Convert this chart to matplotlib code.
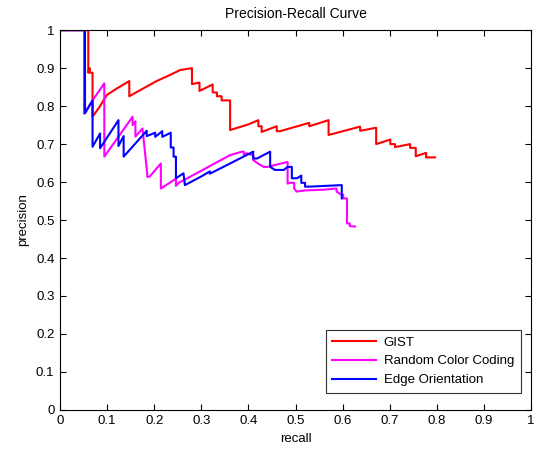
import numpy as np
import matplotlib
matplotlib.use("Agg")
import matplotlib.pyplot as plt

# Curvas precision-recall (vertices de cada escalon)
gist_recall = [0, 0.060, 0.060, 0.063, 0.063, 0.069, 0.069, 0.085, 0.099, 0.120, 0.147, 0.147,
               0.170, 0.205, 0.230, 0.255, 0.280, 0.280, 0.296, 0.296, 0.324, 0.324, 0.333,
               0.333, 0.343, 0.343, 0.355, 0.361, 0.361, 0.400, 0.421, 0.421, 0.428, 0.428,
               0.460, 0.460, 0.467, 0.529, 0.529, 0.570, 0.570, 0.637, 0.637, 0.671, 0.671,
               0.701, 0.701, 0.711, 0.711, 0.743, 0.743, 0.755, 0.755, 0.777, 0.777, 0.796]
gist_prec = [1, 1, 0.888, 0.900, 0.888, 0.888, 0.772, 0.800, 0.829, 0.846, 0.866, 0.826,
             0.842, 0.866, 0.880, 0.895, 0.900, 0.858, 0.862, 0.840, 0.857, 0.836, 0.836,
             0.826, 0.826, 0.815, 0.815, 0.815, 0.737, 0.752, 0.763, 0.747, 0.747, 0.732,
             0.747, 0.734, 0.734, 0.756, 0.747, 0.763, 0.724, 0.746, 0.735, 0.743, 0.700,
             0.712, 0.700, 0.700, 0.692, 0.700, 0.690, 0.690, 0.668, 0.677, 0.665, 0.665]

rcc_recall = [0, 0.051, 0.051, 0.069, 0.094, 0.094, 0.154, 0.154, 0.160, 0.160, 0.175, 0.175,
              0.185, 0.185, 0.190, 0.214, 0.214, 0.246, 0.246, 0.252, 0.300, 0.361, 0.386,
              0.390, 0.390, 0.396, 0.410, 0.410, 0.420, 0.432, 0.440, 0.483, 0.483, 0.488,
              0.497, 0.497, 0.502, 0.520, 0.560, 0.587, 0.587, 0.597, 0.601, 0.601, 0.609,
              0.609, 0.615, 0.615, 0.626]
rcc_prec = [1, 1, 0.780, 0.815, 0.860, 0.667, 0.772, 0.750, 0.760, 0.720, 0.741, 0.741,
            0.623, 0.614, 0.614, 0.649, 0.583, 0.609, 0.590, 0.598, 0.630, 0.671, 0.680,
            0.680, 0.672, 0.676, 0.670, 0.658, 0.649, 0.640, 0.640, 0.653, 0.596, 0.598,
            0.598, 0.583, 0.575, 0.578, 0.580, 0.583, 0.575, 0.567, 0.567, 0.557, 0.557,
            0.491, 0.491, 0.484, 0.483]

edge_recall = [0, 0.053, 0.053, 0.069, 0.069, 0.085, 0.085, 0.124, 0.124, 0.135, 0.135,
               0.184, 0.184, 0.202, 0.202, 0.217, 0.217, 0.235, 0.235, 0.241, 0.241, 0.246,
               0.246, 0.262, 0.262, 0.265, 0.300, 0.318, 0.318, 0.361, 0.410, 0.410, 0.418,
               0.446, 0.446, 0.456, 0.475, 0.483, 0.492, 0.492, 0.503, 0.512, 0.512, 0.520,
               0.520, 0.530, 0.598, 0.598]
edge_prec = [1, 1, 0.781, 0.815, 0.693, 0.728, 0.689, 0.763, 0.695, 0.721, 0.667, 0.735,
             0.721, 0.730, 0.719, 0.734, 0.719, 0.730, 0.691, 0.691, 0.667, 0.667, 0.610,
             0.623, 0.623, 0.592, 0.615, 0.628, 0.622, 0.649, 0.680, 0.662, 0.662, 0.680,
             0.640, 0.632, 0.632, 0.640, 0.640, 0.610, 0.610, 0.617, 0.598, 0.598, 0.588,
             0.588, 0.592, 0.557]

tick_labels = ['0', '0.1', '0.2', '0.3', '0.4', '0.5', '0.6', '0.7', '0.8', '0.9', '1']

plt.rcParams['font.family'] = ['Liberation Sans', 'DejaVu Sans']

fig = plt.figure(figsize=(5.36, 4.57), dpi=100, facecolor='w')
ax = fig.add_axes([0.112, 0.103, 0.879, 0.831])

ax.plot(gist_recall, gist_prec, color='#ff0000', lw=1.5, label='GIST')
ax.plot(rcc_recall, rcc_prec, color='#ff00ff', lw=1.5, label='Random Color Coding')
ax.plot(edge_recall, edge_prec, color='#0000ff', lw=1.5, label='Edge Orientation')

ax.set_xlim(0, 1)
ax.set_ylim(0, 1)
ax.set_xticks(np.arange(0, 1.01, 0.1))
ax.set_yticks(np.arange(0, 1.01, 0.1))
ax.set_xticklabels(tick_labels)
ax.set_yticklabels(tick_labels)
ax.tick_params(axis='both', which='major', direction='in', length=4, width=0.8,
               labelsize=9.5, pad=4, top=True, right=True)
for s in ax.spines.values():
    s.set_linewidth(0.8)

ax.set_xlabel('recall', fontsize=9.5, labelpad=4)
ax.set_ylabel('precision', fontsize=9.5, labelpad=5)
ax.set_title('Precision-Recall Curve', fontsize=10, pad=9)

leg = ax.legend(loc='lower right', bbox_to_anchor=(0.978, 0.045), fontsize=9.5,
                frameon=True, fancybox=False, edgecolor='k', handlelength=3.3,
                borderpad=0.5, labelspacing=0.5, handletextpad=0.6, borderaxespad=0)
leg.get_frame().set_linewidth(0.8)

fig.savefig('out.png', dpi=100, facecolor='w')
